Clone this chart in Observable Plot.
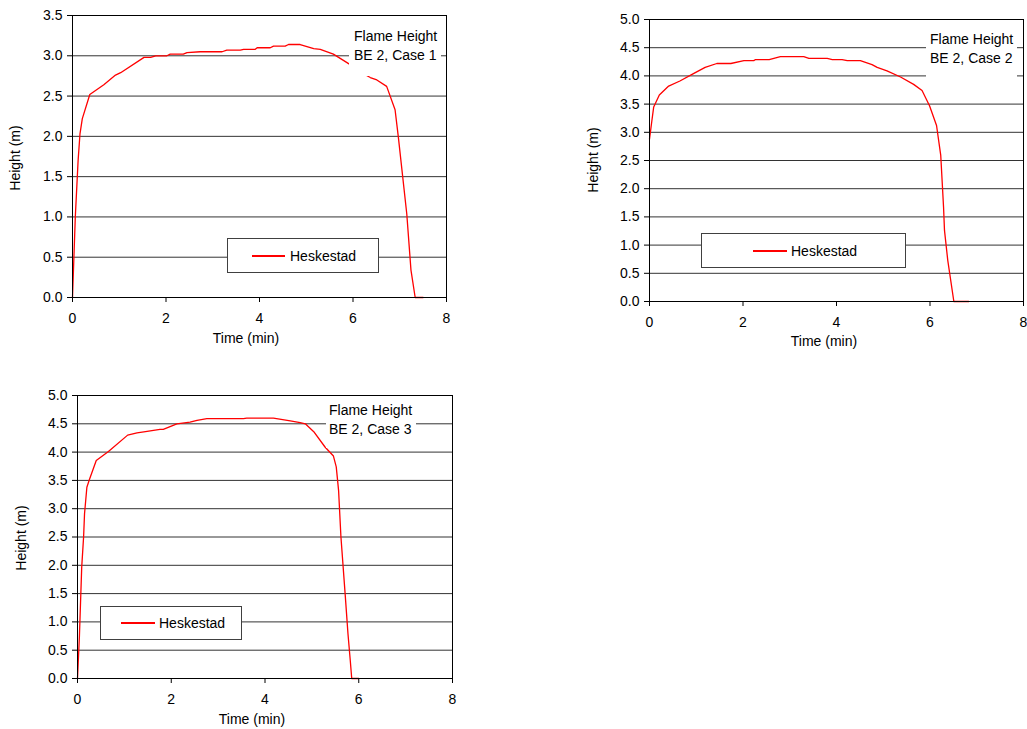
<!DOCTYPE html>
<html>
<head>
<meta charset="utf-8">
<script src="https://cdn.jsdelivr.net/npm/d3@7"></script>
<script src="https://cdn.jsdelivr.net/npm/@observablehq/plot@0.6"></script>
<style>
  html, body { margin: 0; padding: 0; background: #fff; }
  #root { position: relative; width: 1027px; height: 729px; overflow: hidden; font-family: "Liberation Sans", Arial, sans-serif; font-size: 14px; color: #000; }
  .panel { position: absolute; }
  .panel svg { display: block; }
  .note { position: absolute; background: #fff; line-height: 19px; white-space: nowrap; box-sizing: border-box; }
  .legend { position: absolute; background: #fff; border: 1px solid #404040; box-sizing: border-box; }
  .legend .swatch { position: absolute; height: 2px; background: #ff0000; }
  .legend .lab { position: absolute; line-height: 16px; white-space: nowrap; }
  .xtitle, .ytitle { position: absolute; white-space: nowrap; transform: translate(-50%, -50%); }
  .ytitle { transform: translate(-50%, -50%) rotate(-90deg); }
</style>
</head>
<body>
<div id="root"></div>
<script>
// ---- Data ----
const case1Time   = [0, 0.06, 0.12, 0.16, 0.21, 0.37, 0.67, 0.92, 1.03, 1.53, 1.67, 1.78, 2.02, 2.09, 2.37, 2.45, 2.73, 3.2, 3.3, 3.59, 3.66, 3.91, 3.95, 4.23, 4.3, 4.55, 4.62, 4.87, 5.16, 5.3, 5.58, 5.94, 6.15, 6.37, 6.51, 6.72, 6.9, 6.97, 7.15, 7.24, 7.33, 7.5];
const case1Height = [0, 1.0, 1.70, 2.03, 2.22, 2.52, 2.64, 2.76, 2.79, 2.98, 2.98, 3.0, 3.0, 3.02, 3.02, 3.04, 3.05, 3.05, 3.07, 3.07, 3.08, 3.08, 3.10, 3.10, 3.12, 3.12, 3.14, 3.14, 3.09, 3.08, 3.02, 2.89, 2.80, 2.73, 2.70, 2.62, 2.33, 1.99, 1.04, 0.34, 0, 0];

const case2Time   = [0, 0.05, 0.09, 0.21, 0.41, 0.65, 0.94, 1.19, 1.44, 1.74, 2.02, 2.23, 2.27, 2.56, 2.8, 3.3, 3.41, 3.8, 3.91, 4.12, 4.23, 4.51, 4.76, 4.87, 5.08, 5.37, 5.65, 5.83, 5.99, 6.14, 6.23, 6.29, 6.31, 6.38, 6.51, 6.83];
const case2Height = [2.88, 3.2, 3.45, 3.66, 3.82, 3.91, 4.04, 4.15, 4.22, 4.22, 4.27, 4.27, 4.29, 4.29, 4.34, 4.34, 4.31, 4.31, 4.29, 4.29, 4.27, 4.27, 4.2, 4.15, 4.09, 3.98, 3.85, 3.74, 3.47, 3.12, 2.59, 1.67, 1.26, 0.73, 0, 0];

const case3Time   = [0, 0.04, 0.09, 0.13, 0.15, 0.2, 0.26, 0.4, 0.66, 1.07, 1.27, 1.45, 1.76, 1.83, 2.12, 2.4, 2.55, 2.76, 3.54, 3.61, 4.18, 4.54, 4.75, 4.86, 5.04, 5.28, 5.46, 5.52, 5.57, 5.62, 5.71, 5.77, 5.82, 5.85, 6.0];
const case3Height = [0, 0.73, 1.97, 2.5, 2.91, 3.38, 3.53, 3.85, 4.01, 4.3, 4.34, 4.36, 4.4, 4.4, 4.5, 4.53, 4.56, 4.59, 4.59, 4.6, 4.6, 4.55, 4.52, 4.5, 4.36, 4.09, 3.93, 3.74, 3.32, 2.5, 1.49, 0.79, 0.31, 0, 0];

const xTicks = [0, 2, 4, 6, 8];
const yTicksCase1 = [0, 0.5, 1, 1.5, 2, 2.5, 3, 3.5];
const yTicksCase23 = [0, 0.5, 1, 1.5, 2, 2.5, 3, 3.5, 4, 4.5, 5];
const seriesName = "Heskestad";
const xTitle = "Time (min)";
const yTitle = "Height (m)";
const noteLine1 = "Flame Height";
const caseLabels = ["BE 2, Case 1", "BE 2, Case 2", "BE 2, Case 3"];

// ---- Layout ----
const panels = [
  { time: case1Time, height: case1Height, yTicks: yTicksCase1, yMax: 3.5,
    box: {left: 0, top: 0, width: 460, height: 350, mL: 72, mR: 14, mT: 15, mB: 53},
    note: {left: 349, top: 26, width: 92, height: 50, padL: 5},
    legend: {left: 227, top: 238, width: 152, height: 35, sw: 24, swW: 33, lab: 62},
    xt: {x: 246, y: 338}, yt: {x: 15, y: 158} },
  { time: case2Time, height: case2Height, yTicks: yTicksCase23, yMax: 5,
    box: {left: 580, top: 0, width: 447, height: 360, mL: 69, mR: 4, mT: 19, mB: 59},
    note: {left: 926, top: 29, width: 91, height: 55, padL: 4},
    legend: {left: 701, top: 233, width: 205, height: 35, sw: 51, swW: 34, lab: 89},
    xt: {x: 824, y: 341}, yt: {x: 593, y: 160} },
  { time: case3Time, height: case3Height, yTicks: yTicksCase23, yMax: 5,
    box: {left: 0, top: 380, width: 470, height: 349, mL: 77, mR: 18, mT: 15, mB: 51},
    note: {left: 326, top: 400, width: 90, height: 48, padL: 3},
    legend: {left: 100, top: 606, width: 142, height: 34, sw: 20, swW: 34, lab: 58},
    xt: {x: 252, y: 719}, yt: {x: 21, y: 538} }
];

const root = document.getElementById("root");

panels.forEach((p, i) => {
  const data = p.time.map((t, k) => ({t, h: p.height[k]}));
  const b = p.box;
  const chart = Plot.plot({
    width: b.width, height: b.height,
    marginLeft: b.mL, marginRight: b.mR, marginTop: b.mT, marginBottom: b.mB,
    style: {fontFamily: '"Liberation Sans", Arial, sans-serif', fontSize: "14px", color: "#000", background: "transparent", overflow: "visible"},
    x: {domain: [0, 8]},
    y: {domain: [0, p.yMax]},
    marks: [
      Plot.gridY(p.yTicks, {stroke: "#333", strokeOpacity: 1, strokeWidth: 1}),
      Plot.line(data, {x: "t", y: "h", stroke: "#ff0000", strokeWidth: 1.3}),
      Plot.frame({stroke: "#000", strokeWidth: 1}),
      Plot.axisX({ticks: xTicks, tickSize: 5, tickPadding: 11, tickFormat: d => String(d), label: null, stroke: "#000"}),
      Plot.axisY({ticks: p.yTicks, tickSize: 5, tickPadding: 5, tickFormat: d => d.toFixed(1), label: null, stroke: "#000"})
    ]
  });
  const wrap = document.createElement("div");
  wrap.className = "panel";
  wrap.style.left = b.left + "px";
  wrap.style.top = b.top + "px";
  wrap.appendChild(chart);
  root.appendChild(wrap);

  // annotation box
  const n = document.createElement("div");
  n.className = "note";
  Object.assign(n.style, {left: p.note.left + "px", top: p.note.top + "px", width: p.note.width + "px", height: p.note.height + "px", paddingLeft: p.note.padL + "px", paddingTop: "1px"});
  n.innerHTML = noteLine1 + "<br>" + caseLabels[i];
  root.appendChild(n);

  // legend
  const L = p.legend;
  const lg = document.createElement("div");
  lg.className = "legend";
  Object.assign(lg.style, {left: L.left + "px", top: L.top + "px", width: L.width + "px", height: L.height + "px"});
  const sw = document.createElement("div");
  sw.className = "swatch";
  Object.assign(sw.style, {left: L.sw + "px", width: L.swW + "px", top: Math.round(L.height / 2 - 2) + "px"});
  const lab = document.createElement("div");
  lab.className = "lab";
  Object.assign(lab.style, {left: L.lab + "px", top: (L.height / 2 - 9) + "px"});
  lab.textContent = seriesName;
  lg.appendChild(sw); lg.appendChild(lab);
  root.appendChild(lg);

  // axis titles
  const xt = document.createElement("div");
  xt.className = "xtitle";
  xt.style.left = p.xt.x + "px"; xt.style.top = p.xt.y + "px";
  xt.textContent = xTitle;
  root.appendChild(xt);
  const yt = document.createElement("div");
  yt.className = "ytitle";
  yt.style.left = p.yt.x + "px"; yt.style.top = p.yt.y + "px";
  yt.textContent = yTitle;
  root.appendChild(yt);
});
</script>
</body>
</html>
